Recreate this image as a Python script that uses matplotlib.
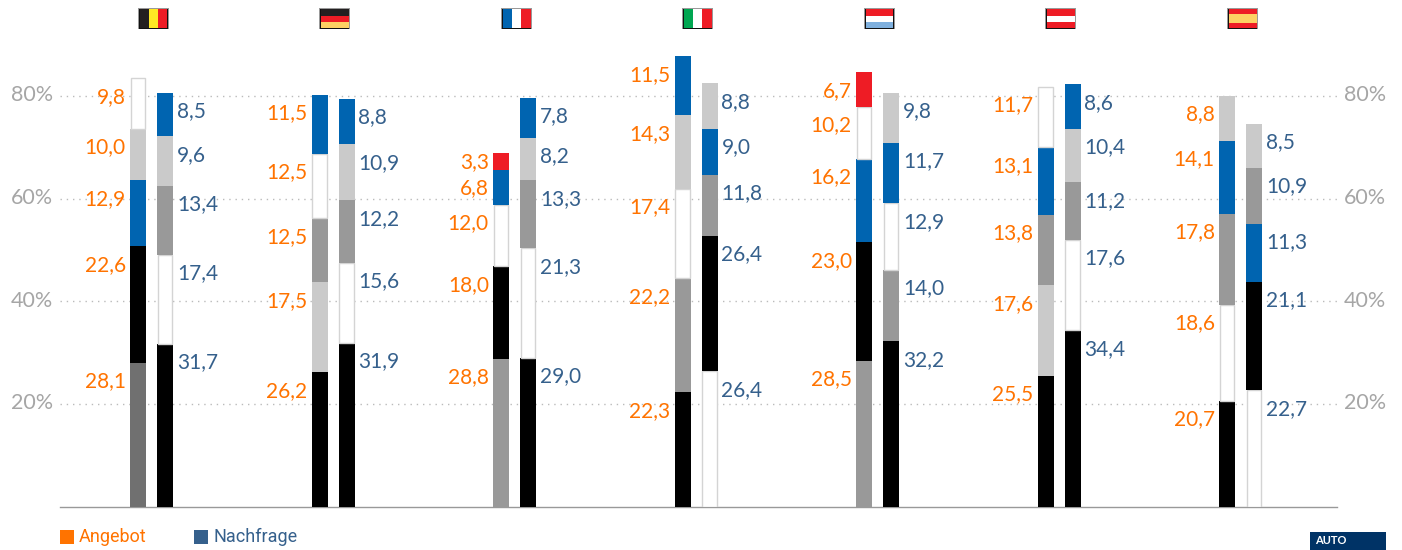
import matplotlib
matplotlib.use("Agg")
import matplotlib.pyplot as plt
from matplotlib.patches import Rectangle
from matplotlib.transforms import ScaledTranslation

plt.rcParams['font.family'] = ['Lato', 'DejaVu Sans']

countries = ["BE", "DE", "FR", "IT", "LU", "AT", "ES"]

# values bottom to top, as stacked in the picture
angebot = [
    [28.1, 22.6, 12.9, 10.0, 9.8],
    [26.2, 17.5, 12.5, 12.5, 11.5],
    [28.8, 18.0, 12.0, 6.8, 3.3],
    [22.3, 22.2, 17.4, 14.3, 11.5],
    [28.5, 23.0, 16.2, 10.2, 6.7],
    [25.5, 17.6, 13.8, 13.1, 11.7],
    [20.7, 18.6, 17.8, 14.1, 8.8],
]
nachfrage = [
    [31.7, 17.4, 13.4, 9.6, 8.5],
    [31.9, 15.6, 12.2, 10.9, 8.8],
    [29.0, 21.3, 13.3, 8.2, 7.8],
    [26.4, 26.4, 11.8, 9.0, 8.8],
    [32.2, 14.0, 12.9, 11.7, 9.8],
    [34.4, 17.6, 11.2, 10.4, 8.6],
    [22.7, 21.1, 11.3, 10.9, 8.5],
]

# k black, w white, m mid grey, l light grey, b blue, r red, d dark grey
angebot_seg = ["dkblw", "klmwb", "mkwbr", "kmwlb", "mkbwr", "klmbw", "kwmbl"]
nachfrage_seg = ["kwmlb", "kwmlb", "kwmlb", "wkmbl", "kmwbl", "kwmlb", "wkbml"]
seg_colors = {"k": "#000000", "w": "#ffffff", "m": "#999999", "l": "#cacaca",
              "b": "#0064b0", "r": "#ee1c25", "d": "#707070"}

flag_stripes = {
    "BE": ("v", ["#231f20", "#ffe924", "#ee1c25"], [1, 1, 1]),
    "DE": ("h", ["#231f20", "#ee1c25", "#fdd163"], [1, 1, 1]),
    "FR": ("v", ["#0064b0", "#ffffff", "#ee1c25"], [1, 1, 1]),
    "IT": ("v", ["#00a651", "#ffffff", "#ee1c25"], [1, 1, 1]),
    "LU": ("h", ["#ee1c25", "#ffffff", "#7fb0de"], [1, 1, 1]),
    "AT": ("h", ["#ee1c25", "#ffffff", "#ee1c25"], [1, 1, 1]),
    "ES": ("h", ["#ee1c25", "#fdd163", "#ee1c25"], [1, 2, 1]),
}
flag_lefts = [138, 319, 501, 682, 864, 1045, 1227]

orange = "#ff7300"
blue = "#35608c"
W, H = 1402, 550
spacing = 181.5
bar_w = 16 / spacing
bar_off = 13.5 / spacing

fig = plt.figure(figsize=(W / 100, H / 100), dpi=100)
ax = fig.add_axes([60 / W, (H - 507) / H, 1277 / W, 467 / H])
ax.set_xlim((60 - 151.5) / spacing, (1337 - 151.5) / spacing)
ax.set_ylim(0, 467 / 5.14)


def draw_stack(x, values, segs, side):
    bottom = 0
    for v, s in zip(values, segs):
        if s == "w":
            ax.bar(x, v, bar_w - 0.006, bottom=bottom, color="white", edgecolor="#d4d4d4", linewidth=1, zorder=3)
        else:
            ax.bar(x, v, bar_w, bottom=bottom, color=seg_colors[s], linewidth=0, zorder=3)
        top = bottom + v
        # labels hang just under the top of their segment
        dy = -18.5 if v > 5 else -9
        if side == "left":
            ax.annotate(f"{v:.1f}".replace(".", ","), (x - bar_w / 2, top), xytext=(-3, dy * 0.72),
                        textcoords="offset points", ha="right", va="center", color=orange, fontsize=15)
        else:
            ax.annotate(f"{v:.1f}".replace(".", ","), (x + bar_w / 2, top), xytext=(2.8, dy * 0.72),
                        textcoords="offset points", ha="left", va="center", color=blue, fontsize=15)
        bottom = top


for i in range(len(countries)):
    draw_stack(i - bar_off, angebot[i], angebot_seg[i], "left")
    draw_stack(i + bar_off, nachfrage[i], nachfrage_seg[i], "right")

ax.set_yticks([20, 40, 60, 80])
ax.set_yticklabels(["20%", "40%", "60%", "80%"])
ax.set_xticks([])
ax.tick_params(axis="y", length=0, labelleft=True, labelright=True, labelcolor="#a6a6a6", labelsize=15.5, pad=5)
# nudge the tick labels up a little, they sit above the grid line
nudge = ScaledTranslation(0, 2 / 72, fig.dpi_scale_trans)
for t in ax.yaxis.get_major_ticks():
    t.label1.set_transform(t.label1.get_transform() + nudge)
    t.label2.set_transform(t.label2.get_transform() + nudge)
ax.grid(axis="y", color="#bbbbbb", linestyle=(0, (1, 3.5)), linewidth=1)
ax.set_axisbelow(True)
for name in ["top", "left", "right"]:
    ax.spines[name].set_visible(False)
ax.spines["bottom"].set_color("#999999")
ax.spines["bottom"].set_linewidth(1)


def px_rect(x0, y0, w, h, **kw):
    # pixel coords from the top left
    fig.add_artist(Rectangle((x0 / W, 1 - (y0 + h) / H), w / W, h / H, transform=fig.transFigure, **kw))


for c, left in zip(countries, flag_lefts):
    kind, cols, parts = flag_stripes[c]
    px_rect(left, 8, 31, 21, facecolor="#999999", linewidth=0)
    px_rect(left + 0.7, 8.7, 29.6, 19.8, facecolor="#111111", linewidth=0)
    pos = 0
    for col, part in zip(cols, parts):
        frac = part / sum(parts)
        if kind == "v":
            px_rect(left + 1.5 + pos * 28, 9.5, frac * 28, 18.5, facecolor=col, linewidth=0)
        else:
            px_rect(left + 1.5, 9.5 + pos * 18.5, 28, frac * 18.5, facecolor=col, linewidth=0)
        pos += frac

# legend and badge
px_rect(60, 530, 14, 14, facecolor=orange, linewidth=0)
fig.text(79 / W, 1 - 537 / H, "Angebot", color=orange, fontsize=13, family="Roboto", va="center")
px_rect(194, 530, 14, 14, facecolor=blue, linewidth=0)
fig.text(214 / W, 1 - 537 / H, "Nachfrage", color=blue, fontsize=13, family="Roboto", va="center")
px_rect(1310, 532, 76, 18, facecolor="#003366", linewidth=0)
fig.text(1315 / W, 1 - 541 / H, "AUTO", color="white", fontsize=8, fontweight="bold", va="center")

fig.savefig("out.png", dpi=100)
